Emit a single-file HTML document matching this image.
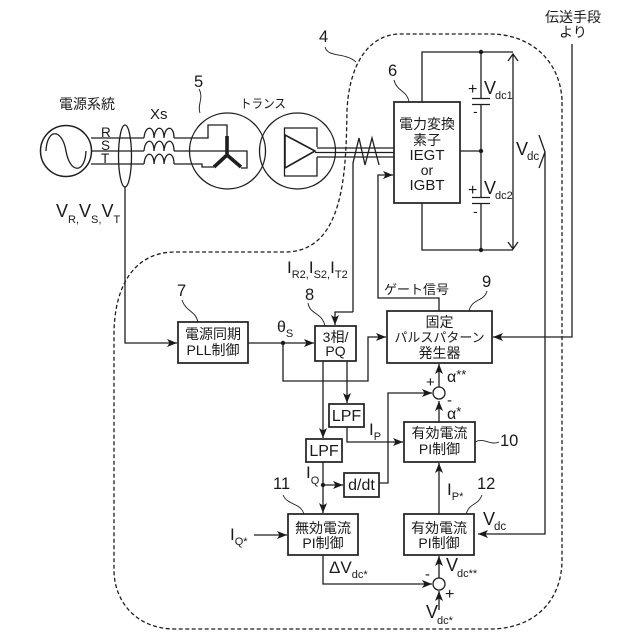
<!DOCTYPE html>
<html><head><meta charset="utf-8"><style>
html,body{margin:0;padding:0;background:#fff}
svg{display:block}
text{font-family:"Liberation Sans","Noto Sans CJK JP",sans-serif;fill:#1a1a1a}
.j{font-size:14px;text-anchor:middle}
.n{font-size:16.5px}
.v{font-size:18px}
.s{font-size:11px}
.l{font-size:14px}
</style></head><body>
<svg width="640" height="640" viewBox="0 0 640 640" xmlns="http://www.w3.org/2000/svg">
<defs>
<marker id="a" markerWidth="11" markerHeight="8" refX="10" refY="4" orient="auto" markerUnits="userSpaceOnUse"><path d="M0 0L10 4L0 8L2.500 4Z" fill="#1a1a1a"/></marker>
</defs>
<g fill="none" stroke="#1e1e1e" stroke-width="1.300">
<!-- dashed outline -->
<path d="M562 100C560 60 530 34 490 34L400 34C375 34 350 55 347 110C346 170 345 252 285 252L175 252C135 252 114 285 114 335L114 570C114 600 135 629 175 629L490 629C535 629 562 600 562 560Z" stroke-dasharray="4 2.500"/>
<!-- source -->
<circle cx="66" cy="151" r="25.500" stroke-width="1.500"/>
<path d="M46 151C47 128 62 128 66 151C70 174 85 174 86 151"/>
<path d="M91 138H144M91 151H144M91 164H144M174 138H208V125H227V136M174 151H247V168H241M174 164H202V167H214"/>
<path d="M144 138C145 125 154 125 154 138C155 125 164 125 164 138C165 125 174 125 174 138M144 151C145 138 154 138 154 151C155 138 164 138 164 151C165 138 174 138 174 151M144 164C145 151 154 151 154 164C155 151 164 151 164 164C165 151 174 151 174 164"/>
<ellipse cx="125" cy="156" rx="6.500" ry="31"/>
<path d="M125 187V343H177" marker-end="url(#a)"/>
<!-- transformer -->
<circle cx="227.500" cy="151" r="38"/>
<circle cx="297.500" cy="151" r="38"/>
<path d="M227 155V136M227 155L214 167M227 155L241 167" stroke-width="3.600"/>
<path d="M317 147V128H284.500V176H317V157"/>
<path d="M285 135L315 151L285 168Z" stroke-width="1.600"/>
<path d="M317 148H394M315 152.500H394M317 157H394"/>
<path d="M353 312V163L359 138L365 165L372 138L379 165"/>
<path d="M353 312H335V325" marker-end="url(#a)"/>
<path d="M439 311V298H378V175H393" marker-end="url(#a)"/>
<!-- box 6 + dc link -->
<rect x="394" y="102" width="66" height="101" stroke-width="1.700"/>
<path d="M422 102V52H513M422 203V250H513M460 151H481M481 52V98M481 104V197M481 203V250"/>
<path d="M472 98.500H490M472 104.500H490M472 197.500H490M472 203.500H490"/>
<path d="M513 54V249M508 61L513 54L518 61M508 242L513 249L518 242"/>
<path d="M539 135L545 152L539 168M545 152V534H478" marker-end="url(#a)"/>
<path d="M572 44V337H493" marker-end="url(#a)"/>
<!-- control -->
<g stroke-width="1.700">
<rect x="178" y="322" width="70" height="41"/>
<rect x="315" y="326" width="41" height="35"/>
<rect x="387" y="311" width="105" height="52"/>
<rect x="329" y="404" width="35" height="23"/>
<rect x="306" y="439" width="36" height="23"/>
<rect x="404" y="422" width="71" height="40"/>
<rect x="344" y="473" width="35" height="24"/>
<rect x="288" y="514" width="70" height="41"/>
<rect x="404" y="514" width="70" height="41"/>
</g>
<path d="M248 343H314" marker-end="url(#a)"/>
<path d="M283 343V381H368V337H386" marker-end="url(#a)"/>
<path d="M323 361V438" marker-end="url(#a)"/>
<path d="M347 361V403" marker-end="url(#a)"/>
<path d="M347 427V442H403" marker-end="url(#a)"/>
<path d="M439 422V401" marker-end="url(#a)"/>
<path d="M439 387V364" marker-end="url(#a)"/>
<path d="M379 483H388V393H432" marker-end="url(#a)"/>
<circle cx="439" cy="393" r="6"/>
<path d="M323 462V513" marker-end="url(#a)"/>
<path d="M323 485H343" marker-end="url(#a)"/>
<path d="M254 535H287" marker-end="url(#a)"/>
<path d="M323 555V584H432" marker-end="url(#a)"/>
<circle cx="439" cy="584" r="6"/>
<path d="M439 578V556" marker-end="url(#a)"/>
<path d="M439 610V591" marker-end="url(#a)"/>
<path d="M439 514V463" marker-end="url(#a)"/>
<!-- leaders -->
<g stroke-width="0.900">
<path d="M325 47C328 58 345 52 356 62"/>
<path d="M199 89C204 98 197 105 200 113"/>
<path d="M394 80C397 92 407 90 409 102"/>
<path d="M182 300C186 312 195 310 198 322"/>
<path d="M308 303C310 315 322 312 325 326"/>
<path d="M487 291C484 302 472 298 469 311"/>
<path d="M475 442C484 437 490 446 499 442"/>
<path d="M283 495C288 506 300 502 304 514"/>
<path d="M482 495C478 506 470 502 466 514"/>
</g>
</g>
<g fill="#1a1a1a">
<circle cx="481" cy="52" r="2.200"/><circle cx="481" cy="151" r="2.200"/><circle cx="481" cy="250" r="2.200"/>
<circle cx="283" cy="343" r="2.200"/><circle cx="323" cy="485" r="2.200"/>
</g>
<text class="j" x="87" y="109">電源系統</text>
<text class="l" x="150" y="119" style="font-size:15px">Xs</text>
<text class="n" x="194" y="87">5</text>
<text x="101" y="137" font-size="13.500">R</text>
<text x="101" y="150" font-size="13.500">S</text>
<text x="101" y="163" font-size="13.500">T</text>
<text x="240" y="108" font-size="12.500" textLength="46" lengthAdjust="spacingAndGlyphs">トランス</text>
<text class="n" x="319" y="42">4</text>
<text class="n" x="388" y="76">6</text>
<text class="v" x="56" y="217">V<tspan class="s" dy="6">R,</tspan><tspan dy="-6">V</tspan><tspan class="s" dy="6">S,</tspan><tspan dy="-6">V</tspan><tspan class="s" dy="6">T</tspan></text>
<text class="j" x="427" y="129">電力変換</text>
<text class="j" x="427" y="145">素子</text>
<text class="j" x="427" y="160" style="font-size:15px">IEGT</text>
<text class="j" x="427" y="175" style="font-size:14px">or</text>
<text class="j" x="427" y="190" style="font-size:15px">IGBT</text>
<text class="v" x="484" y="94">V</text><text class="s" x="495" y="99">dc1</text>
<text class="v" x="484" y="194">V</text><text class="s" x="495" y="199">dc2</text>
<text x="468" y="94" font-size="16">+</text><text x="473" y="116" font-size="14">-</text>
<text x="468" y="195" font-size="16">+</text><text x="473" y="216" font-size="14">-</text>
<text class="v" x="516" y="155">V</text><text class="s" x="527" y="160" style="font-size:11.500px">dc</text>
<text class="j" x="573" y="22">伝送手段</text>
<text class="j" x="573" y="37">より</text>
<text x="287" y="273" font-size="17">I<tspan class="s" dy="5">R2,</tspan><tspan dy="-5">I</tspan><tspan class="s" dy="5">S2,</tspan><tspan dy="-5">I</tspan><tspan class="s" dy="5">T2</tspan></text>
<text x="384" y="294" font-size="13">ゲート信号</text>
<text class="n" x="177" y="296">7</text>
<text class="n" x="305" y="300">8</text>
<text class="n" x="482" y="287">9</text>
<text class="j" x="213" y="339">電源同期</text>
<text class="j" x="213" y="355">PLL制御</text>
<text x="277" y="332" font-size="16">θ<tspan class="s" dy="5">S</tspan></text>
<text class="j" x="335.500" y="342">3相/</text>
<text class="j" x="335.500" y="356">PQ</text>
<text class="j" x="439.500" y="327">固定</text>
<text class="j" x="439.500" y="342" style="font-size:13px">パルスパターン</text>
<text class="j" x="439.500" y="358">発生器</text>
<text x="447" y="382" font-size="16">α<tspan dy="-3" font-size="13">**</tspan></text>
<text x="447" y="419" font-size="16">α<tspan dy="-3" font-size="13">*</tspan></text>
<text x="426" y="387" font-size="15">+</text><text x="447" y="405" font-size="15">-</text>
<text x="346.500" y="421" text-anchor="middle" font-size="16">LPF</text>
<text x="324" y="456" text-anchor="middle" font-size="16">LPF</text>
<text class="j" x="439.500" y="438">有効電流</text>
<text class="j" x="439.500" y="454">PI制御</text>
<text class="n" x="500" y="446">10</text>
<text x="369" y="435" font-size="17">I<tspan class="s" dy="5">P</tspan></text>
<text x="306" y="478" font-size="17">I<tspan class="s" dy="6">Q</tspan></text>
<text x="361.500" y="490" text-anchor="middle" font-size="16">d/dt</text>
<text class="n" x="273" y="489">11</text>
<text class="n" x="477" y="489">12</text>
<text x="447" y="495" font-size="17">I<tspan class="s" dy="5">P*</tspan></text>
<text class="v" x="483" y="525">V</text><text class="s" x="494" y="530" style="font-size:11.500px">dc</text>
<text x="230" y="540" font-size="17">I<tspan class="s" dy="5">Q*</tspan></text>
<text class="j" x="323" y="533">無効電流</text>
<text class="j" x="323" y="548">PI制御</text>
<text class="j" x="439" y="533">有効電流</text>
<text class="j" x="439" y="548">PI制御</text>
<text x="329" y="573" font-size="17">ΔV<tspan class="s" dy="5">dc*</tspan></text>
<text class="v" x="446" y="571">V</text><text class="s" x="457" y="577">dc**</text>
<text x="425" y="579" font-size="15">-</text><text x="445" y="599" font-size="16">+</text>
<text class="v" x="426" y="618">V</text><text class="s" x="437" y="624">dc*</text>
</svg>
</body></html>
